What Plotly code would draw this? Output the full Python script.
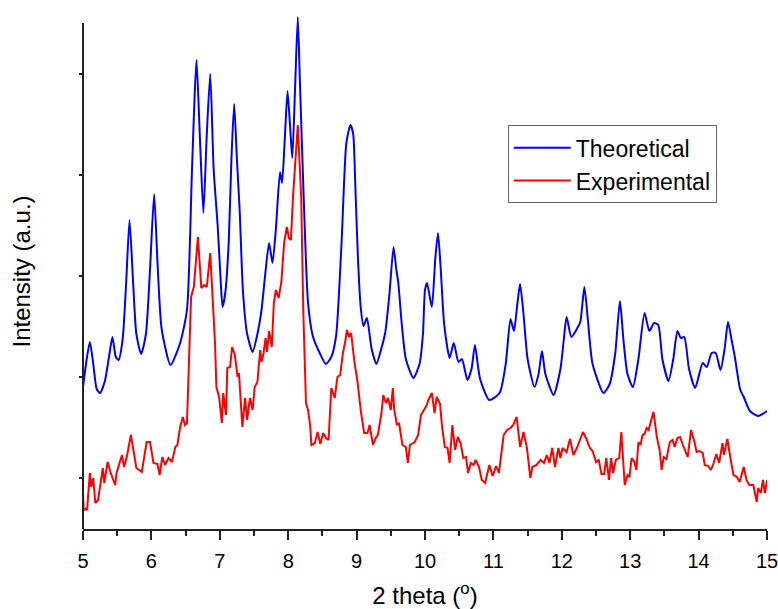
import plotly.graph_objects as go

# 2-theta positions and intensities (a.u.)
theo_x = [5.00, 5.05, 5.10, 5.15, 5.20, 5.25, 5.32, 5.38, 5.43, 5.48, 5.52,
          5.58, 5.63, 5.68, 5.73, 5.78, 5.85, 5.92, 5.98, 6.04, 6.09, 6.15, 6.28,
          6.42, 6.52, 6.59, 6.63, 6.66, 6.71, 6.76, 6.81, 6.86, 6.91, 6.97, 7.01, 7.04,
          7.08, 7.13, 7.17, 7.21, 7.25, 7.29, 7.34, 7.40, 7.48,
          7.55, 7.61, 7.66, 7.72, 7.77, 7.82, 7.88, 7.91, 7.95, 7.99, 8.03, 8.06,
          8.10, 8.14, 8.17, 8.20, 8.25, 8.29, 8.36, 8.46, 8.55,
          8.63, 8.70, 8.78, 8.85, 8.91, 8.95, 8.98, 9.02, 9.06, 9.10, 9.15, 9.22, 9.29,
          9.36, 9.42, 9.48, 9.54, 9.58, 9.61, 9.66, 9.72, 9.83,
          9.92, 9.97, 10.00, 10.03, 10.10, 10.15, 10.19, 10.23, 10.28, 10.36,
          10.42, 10.49, 10.54, 10.62, 10.68, 10.73, 10.78, 10.81, 10.94, 11.09,
          11.18, 11.25, 11.30, 11.35, 11.39, 11.44, 11.50, 11.60, 11.66, 11.71, 11.76,
          11.88, 11.98, 12.03, 12.07, 12.14, 12.22, 12.27, 12.33, 12.38, 12.45, 12.61,
          12.70, 12.78, 12.85, 12.90, 12.96, 13.04, 13.12, 13.21, 13.28, 13.35, 13.41,
          13.47, 13.56, 13.63, 13.69, 13.74, 13.79, 13.86, 13.95, 14.06, 14.12, 14.19,
          14.25, 14.32, 14.38, 14.43, 14.48, 14.53, 14.61, 14.66, 14.75, 14.87, 15.00]
theo_y = [142, 168, 187, 165, 140, 136, 148, 172, 192, 172, 169,
          190, 245, 309, 250, 195, 175, 195, 260, 335, 265, 200, 164,
          186, 219, 352, 430, 469, 390, 316, 395, 455, 360, 302, 252, 222,
          236, 286, 370, 425, 370, 319, 236, 195, 177,
          195, 219, 252, 286, 266, 300, 357, 346, 390, 438, 400, 371,
          440, 512, 450, 386, 286, 226, 193, 176, 165,
          172, 193, 286, 386, 404, 395, 346, 270, 222, 203, 211, 180, 165,
          180, 197, 235, 282, 260, 246, 205, 170, 151,
          165, 195, 239, 246, 222, 270, 296, 260, 205, 171,
          186, 167, 170, 149, 160, 184, 160, 149, 129, 136,
          165, 210, 198, 225, 245, 215, 170, 142, 155, 178, 155,
          134, 160, 190, 212, 192, 200, 207, 242, 210, 165, 136,
          145, 175, 228, 190, 155, 142, 170, 216, 198, 206, 204,
          170, 148, 170, 198, 191, 192, 160, 141, 166, 162, 176,
          176, 159, 180, 207, 190, 172, 139, 132, 118, 113, 118]

exp_x = [5.00, 5.01, 5.04, 5.06, 5.10, 5.12, 5.15, 5.18, 5.22, 5.29, 5.31, 5.36, 5.40,
         5.47, 5.49, 5.57, 5.60, 5.64, 5.70, 5.74, 5.78, 5.86, 5.93, 5.98, 6.03, 6.09,
         6.12, 6.16, 6.20, 6.25, 6.30, 6.35, 6.38, 6.42, 6.46, 6.49, 6.52, 6.58, 6.62,
         6.68, 6.73, 6.77, 6.81, 6.86, 6.93, 6.95, 6.99, 7.03, 7.05, 7.09, 7.11, 7.15,
         7.18, 7.22, 7.26, 7.28, 7.33, 7.37, 7.40, 7.44, 7.48, 7.51, 7.55, 7.59, 7.61,
         7.64, 7.67, 7.69, 7.72, 7.76, 7.79, 7.82, 7.86, 7.90, 7.94, 7.98, 8.01, 8.04,
         8.07, 8.14, 8.19, 8.22, 8.26, 8.29, 8.32, 8.34, 8.39, 8.43, 8.47, 8.51, 8.55,
         8.59, 8.63, 8.68, 8.72, 8.76, 8.80, 8.83, 8.86, 8.89, 8.92, 8.97, 9.01, 9.06,
         9.11, 9.16, 9.19, 9.24, 9.28, 9.31, 9.36, 9.39, 9.43, 9.46, 9.50, 9.53, 9.55,
         9.59, 9.62, 9.67, 9.72, 9.75, 9.78, 9.85, 9.90, 9.94, 9.98, 10.02, 10.05, 10.10,
         10.14, 10.17, 10.22, 10.25, 10.29, 10.33, 10.36, 10.40, 10.44, 10.48, 10.52,
         10.56, 10.60, 10.63, 10.67, 10.71, 10.74, 10.79, 10.83, 10.88, 10.94, 10.99,
         11.04, 11.08, 11.15, 11.20, 11.25, 11.29, 11.34, 11.39, 11.44, 11.49, 11.54,
         11.57, 11.63, 11.69, 11.74, 11.78, 11.82, 11.86, 11.90, 11.95, 11.98, 12.01,
         12.07, 12.12, 12.17, 12.22, 12.27, 12.31, 12.36, 12.41, 12.45, 12.50, 12.54,
         12.58, 12.62, 12.65, 12.69, 12.72, 12.75, 12.79, 12.84, 12.87, 12.92, 12.96,
         12.99, 13.02, 13.06, 13.09, 13.12, 13.15, 13.18, 13.21, 13.24, 13.27, 13.30,
         13.34, 13.39, 13.43, 13.46, 13.49, 13.53, 13.58, 13.62, 13.65, 13.69, 13.73,
         13.77, 13.80, 13.84, 13.89, 13.94, 13.97, 14.01, 14.06, 14.09, 14.14, 14.18,
         14.22, 14.26, 14.30, 14.35, 14.37, 14.42, 14.47, 14.51, 14.56, 14.60, 14.66,
         14.70, 14.74, 14.80, 14.85, 14.87, 14.91, 14.94, 14.97, 15.00]
exp_y = [36, 19, 20, 19, 56, 42, 51, 26, 29, 61, 46, 67, 57,
         44, 56, 74, 62, 72, 94, 76, 61, 57, 87, 87, 66, 65,
         54, 72, 64, 71, 67, 82, 84, 102, 112, 104, 106, 232, 242,
         292, 241, 244, 242, 276, 186, 142, 132, 106, 136, 114, 161, 162,
         182, 174, 152, 156, 102, 131, 109, 131, 119, 142, 147, 179, 167,
         176, 191, 177, 198, 182, 226, 239, 231, 247, 286, 302, 291, 289,
         332, 404, 332, 219, 126, 119, 104, 84, 86, 97, 85, 96, 91,
         89, 141, 131, 152, 154, 176, 186, 199, 192, 196, 166, 149, 119,
         96, 96, 104, 84, 91, 94, 114, 134, 126, 131, 119, 141, 119,
         104, 106, 84, 82, 66, 84, 87, 94, 114, 119, 123, 129, 136,
         116, 132, 125, 102, 82, 81, 66, 104, 79, 92, 86,
         71, 72, 56, 66, 64, 69, 62, 49, 46, 64, 53,
         63, 56, 94, 99, 101, 104, 112, 82, 97, 81, 51,
         62, 64, 69, 66, 74, 66, 81, 62, 81, 71, 81,
         77, 90, 74, 81, 90, 97, 90, 81, 78, 67, 69,
         55, 55, 71, 49, 71, 56, 69, 71, 97, 44, 54,
         52, 71, 67, 59, 87, 84, 94, 95, 101, 99, 107,
         117, 92, 79, 59, 72, 70, 87, 89, 82, 91, 92,
         84, 79, 72, 99, 87, 77, 78, 76, 64, 63, 59,
         66, 75, 66, 86, 74, 90, 69, 54, 52, 47, 62,
         49, 44, 44, 27, 41, 36, 49, 36, 49]

x_ticks = [5, 6, 7, 8, 9, 10, 11, 12, 13, 14, 15]
y_ticks = [51, 152, 253, 354, 455]
y_axis_top = 506

FONT = "Liberation Sans, Arial, sans-serif"

fig = go.Figure()
fig.add_trace(go.Scatter(x=theo_x, y=theo_y, mode="lines", name="Theoretical",
                         line=dict(color="#0000FF", width=2, shape="spline", smoothing=0.6)))
fig.add_trace(go.Scatter(x=exp_x, y=exp_y, mode="lines", name="Experimental",
                         line=dict(color="#FF0000", width=2)))

fig.update_layout(
    width=778, height=609,
    margin=dict(l=83, r=11, t=14, b=80, autoexpand=False),
    paper_bgcolor="white", plot_bgcolor="white",
    font=dict(family=FONT, color="black", size=20),
    showlegend=True,
    legend=dict(x=0.621, y=0.784, xanchor="left", yanchor="top",
                bgcolor="white", bordercolor="#666666", borderwidth=1,
                font=dict(size=23, family=FONT, color="black"),
                itemwidth=57, tracegroupgap=0),
    xaxis=dict(range=[5, 15], tickvals=x_ticks, ticktext=[str(v) for v in x_ticks],
               automargin=False, ticklabeloverflow="allow",
               showline=True, linecolor="#222222", linewidth=2,
               ticks="outside", ticklen=9, tickwidth=2, tickcolor="#222222",
               ticklabelstandoff=4,
               minor=dict(ticks="outside", ticklen=5, tickwidth=2, tickcolor="#222222", dtick=0.5),
               showgrid=False, zeroline=False,
               tickfont=dict(size=20, family=FONT, color="black"),
               title=dict(text="2 theta (<sup>o</sup>)", font=dict(size=24, family=FONT, color="black"),
                          standoff=22)),
    yaxis=dict(range=[0, 515], tickvals=y_ticks, showticklabels=False,
               automargin=False,
               showline=False, ticks="outside", ticklen=3, tickwidth=1.5, tickcolor="#222222",
               showgrid=False, zeroline=False,
               title=dict(text="Intensity (a.u.)", font=dict(size=24, family=FONT, color="black"),
                          standoff=41)),
    shapes=[dict(type="line", xref="paper", x0=0, x1=0, yref="y", y0=0, y1=y_axis_top,
                 line=dict(color="#222222", width=2), layer="above")],
)

fig.write_html("out.html", config={"displayModeBar": False},
               post_script="document.body.style.margin='0';document.body.style.overflow='hidden';")
